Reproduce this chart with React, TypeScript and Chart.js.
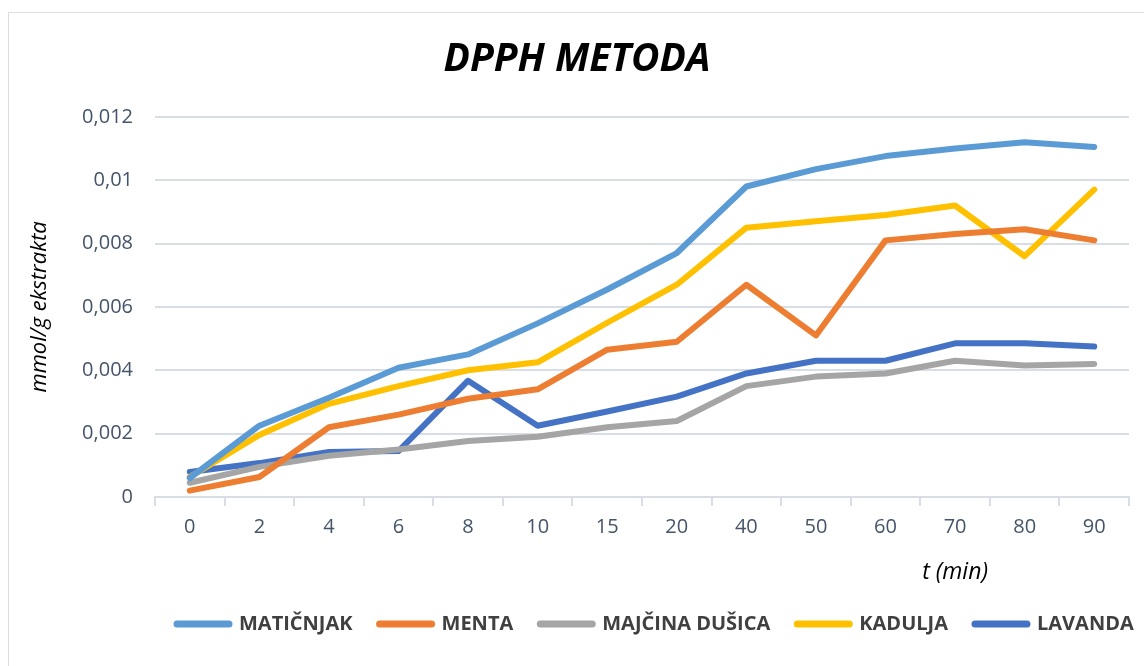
import React, { useEffect, useRef } from "react";
import { Chart, registerables } from "chart.js";

Chart.register(...registerables);

const categories = ["0", "2", "4", "6", "8", "10", "15", "20", "40", "50", "60", "70", "80", "90"];
const maticnjak = [0.0006, 0.00225, 0.00313, 0.00408, 0.0045, 0.00548, 0.00655, 0.0077, 0.0098, 0.01035, 0.01076, 0.011, 0.0112, 0.01105];
const menta = [0.0002, 0.00063, 0.0022, 0.0026, 0.0031, 0.0034, 0.00465, 0.0049, 0.0067, 0.0051, 0.0081, 0.0083, 0.00845, 0.0081];
const majcinaDusica = [0.00045, 0.00095, 0.0013, 0.0015, 0.00177, 0.0019, 0.0022, 0.0024, 0.0035, 0.0038, 0.0039, 0.0043, 0.00415, 0.0042];
const kadulja = [0.00063, 0.00196, 0.00294, 0.0035, 0.004, 0.00425, 0.0055, 0.0067, 0.0085, 0.0087, 0.0089, 0.0092, 0.0076, 0.0097];
const lavanda = [0.00079, 0.00107, 0.00142, 0.00145, 0.00367, 0.00225, 0.0027, 0.00317, 0.0039, 0.0043, 0.0043, 0.00485, 0.00485, 0.00475];
const seriesNames = ["MATIČNJAK", "MENTA", "MAJČINA DUŠICA", "KADULJA", "LAVANDA"];
const seriesColors = ["#5B9BD5", "#ED7D31", "#A5A5A5", "#FFC000", "#4472C4"];
const yTicks = [0, 0.002, 0.004, 0.006, 0.008, 0.01, 0.012];

const GRID = "#D9DEE6";
const TICK = "#44546A";

const xTitlePlugin = {
  id: "xTitle",
  afterDraw(chart: any) {
    const ctx = chart.ctx;
    const xs = chart.scales.x;
    ctx.save();
    ctx.font = "italic 23px 'Open Sans'";
    ctx.fillStyle = "#000000";
    ctx.textAlign = "center";
    ctx.textBaseline = "middle";
    ctx.fillText("t (min)", xs.getPixelForValue(11), 572);
    ctx.restore();
  },
};

const legendShiftPlugin = {
  id: "legendShift",
  afterLayout(chart: any) {
    const lg = chart.legend;
    if (lg) {
      const d = 150 - lg.left;
      lg.left += d;
      lg.right += d;
    }
  },
};

export default function App() {
  const ref = useRef<HTMLCanvasElement | null>(null);
  useEffect(() => {
    document.body.style.margin = "0";
    const data = [maticnjak, menta, majcinaDusica, kadulja, lavanda];
    const chart = new Chart(ref.current as HTMLCanvasElement, {
      type: "line",
      data: {
        labels: categories,
        datasets: data.map((d, i) => ({
          label: seriesNames[i],
          data: d,
          borderColor: seriesColors[i],
          backgroundColor: seriesColors[i],
          borderWidth: 6,
          borderCapStyle: "round",
          borderJoinStyle: "round",
          pointRadius: 0,
          pointHoverRadius: 0,
          tension: 0,
          fill: false,
        })),
      },
      options: {
        animation: false,
        responsive: false,
        layout: { padding: { left: 25, right: 15, top: 0, bottom: 22 } },
        plugins: {
          title: {
            display: true,
            text: "DPPH METODA",
            color: "#000000",
            font: { family: "'Open Sans'", size: 39, weight: "bold", style: "italic" },
            padding: { top: 36, bottom: 34 },
          },
          legend: {
            position: "bottom",
            align: "start",
            labels: {
              usePointStyle: true,
              pointStyle: "line",
              pointStyleWidth: 52,
              padding: 27,
              color: "#404040",
              font: { family: "'Open Sans'", size: 20, weight: "bold" },
              generateLabels: (c: any) =>
                Chart.defaults.plugins.legend.labels.generateLabels(c).map((it: any) => ({
                  ...it,
                  lineWidth: 7,
                  lineCap: "round",
                  strokeStyle: seriesColors[it.datasetIndex],
                })),
            },
          },
          tooltip: { enabled: false },
        },
        scales: {
          x: {
            type: "category",
            offset: true,
            grid: {
              offset: true,
              drawOnChartArea: false,
              drawTicks: true,
              tickLength: 9,
              color: GRID,
              lineWidth: 2,
            },
            border: { display: true, color: GRID, width: 2 },
            ticks: {
              color: TICK,
              padding: 9,
              font: { family: "'Open Sans'", size: 20 },
              maxRotation: 0,
            },
            afterFit: (s: any) => {
              s.height = 90;
            },
          },
          y: {
            min: 0,
            max: 0.012,
            afterBuildTicks: (s: any) => {
              s.ticks = yTicks.map((v) => ({ value: v }));
            },
            grid: { color: GRID, lineWidth: 2, drawTicks: false },
            border: { display: false },
            ticks: {
              color: TICK,
              padding: 22,
              font: { family: "'Open Sans'", size: 20 },
              callback: (v: any) => String(Number(v)).replace(".", ","),
            },
            title: {
              display: true,
              text: "mmol/g ekstrakta",
              color: "#000000",
              font: { family: "'Open Sans'", size: 22, style: "italic" },
              padding: { top: 2, bottom: 4 },
            },
            afterFit: (s: any) => {
              s.width = 130;
            },
          },
        },
      },
      plugins: [xTitlePlugin, legendShiftPlugin],
    } as any);
    return () => chart.destroy();
  }, []);
  return (
    <div style={{ position: "relative", width: 1144, height: 666, background: "#fff" }}>
      <div
        style={{
          position: "absolute",
          left: 8,
          top: 12,
          width: 1144,
          height: 700,
          border: "1px solid #D9DEE6",
          boxSizing: "border-box",
        }}
      />
      <canvas ref={ref} width={1144} height={666} style={{ position: "absolute", left: 0, top: 0 }} />
    </div>
  );
}
